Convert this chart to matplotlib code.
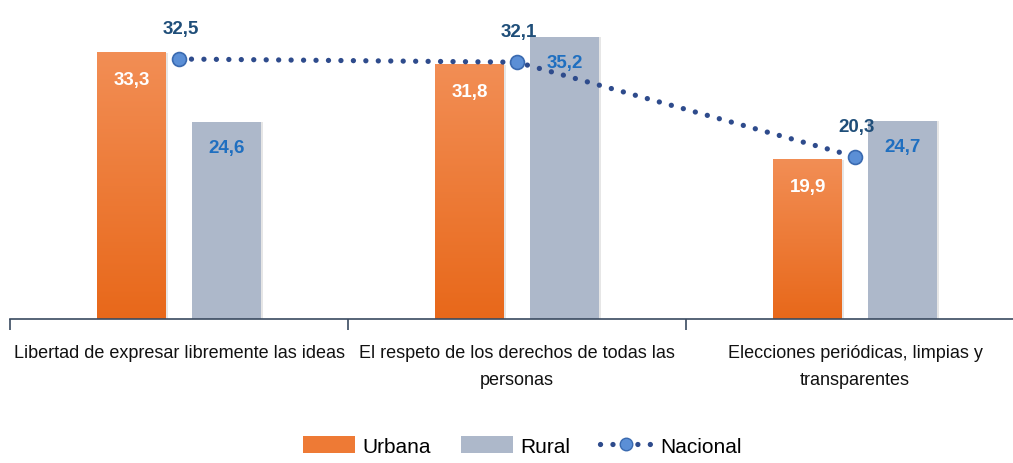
import numpy as np
import matplotlib
matplotlib.use("Agg")
import matplotlib.pyplot as plt
from matplotlib.colors import LinearSegmentedColormap
from matplotlib.patches import Patch
from matplotlib.lines import Line2D

plt.rcParams['font.family'] = ['Liberation Sans', 'DejaVu Sans']

categories = ["Libertad de expresar libremente las ideas",
              "El respeto de los derechos de todas las\npersonas",
              "Elecciones periódicas, limpias y\ntransparentes"]
urbana = [33.3, 31.8, 19.9]
rural = [24.6, 35.2, 24.7]
nacional = [32.5, 32.1, 20.3]

fig = plt.figure(figsize=(10.13, 4.64), dpi=100)
ax = fig.add_axes([10 / 1013, 144 / 464, 1014 / 1013, 320 / 464])

x = np.arange(len(categories))
off, w = 0.14, 0.204

orange_cmap = LinearSegmentedColormap.from_list("org", ["#E8681A", "#F28E55"])
grad = np.linspace(0, 1, 256).reshape(-1, 1)

# bars: orange with vertical gradient, rural flat
for i in range(len(categories)):
    xu = x[i] - off
    # soft shadow
    ax.bar(xu + 0.006, urbana[i], w, color="#e6e6e6", zorder=1)
    ax.imshow(grad, cmap=orange_cmap, aspect="auto", origin="lower",
              extent=(xu - w / 2, xu + w / 2, 0, urbana[i]), zorder=2)
    xr = x[i] + off
    ax.bar(xr + 0.006, rural[i], w, color="#e6e6e6", zorder=1)
    ax.bar(xr, rural[i], w, color="#ADB8CA", zorder=2)

    ax.text(xu, urbana[i] - 3.4, f"{urbana[i]:.1f}".replace(".", ","), ha="center", va="center",
            color="white", fontsize=13.5, fontweight="bold", zorder=5)
    ax.text(xr, rural[i] - 3.2, f"{rural[i]:.1f}".replace(".", ","), ha="center", va="center",
            color="#1F6FC0", fontsize=13.5, fontweight="bold", zorder=5)
    ax.text(x[i] + 0.005, nacional[i] + 3.8, f"{nacional[i]:.1f}".replace(".", ","), ha="center", va="center",
            color="#1F4E79", fontsize=13.5, fontweight="bold", zorder=5)

# nacional dotted line
ax.plot(x, nacional, color="#2E4B8C", lw=3.8, linestyle=(0, (0.01, 2.35)),
        dash_capstyle="round", zorder=3)
ax.plot(x, nacional, linestyle="none", marker="o", markersize=10,
        markerfacecolor="#5B8FD6", markeredgecolor="#3A6AB0", markeredgewidth=1.2, zorder=4)

ax.set_xlim(-0.5, 2.5)
ax.set_ylim(0, 40)
for s in ["top", "right", "left"]:
    ax.spines[s].set_visible(False)
ax.spines["bottom"].set_color("#3A4A60")
ax.spines["bottom"].set_linewidth(1.2)
ax.set_yticks([])
ax.set_xticks(x)
ax.set_xticklabels(categories, fontsize=13, color="#111111", linespacing=1.75)
ax.tick_params(axis="x", which="major", length=0, pad=18)
ax.set_xticks([-0.5, 0.5, 1.5, 2.5], minor=True)
ax.tick_params(axis="x", which="minor", length=8, width=1.2, color="#3A4A60")

handles = [Patch(facecolor="#EE7A35", edgecolor="none"),
           Patch(facecolor="#ADB8CA", edgecolor="none"),
           Line2D([0], [0], color="#2E4B8C", lw=3.8, linestyle=(0, (0.01, 2.35)), dash_capstyle="round",
                  marker="o", markersize=9, markerfacecolor="#5B8FD6", markeredgecolor="#3A6AB0")]
fig.legend(handles, ["Urbana", "Rural", "Nacional"], loc="lower center", bbox_to_anchor=(522 / 1013, -0.025),
           ncol=3, frameon=False, fontsize=15, handlelength=2.5, handleheight=0.9,
           columnspacing=1.45, handletextpad=0.35)

fig.savefig("out.png", dpi=100)
